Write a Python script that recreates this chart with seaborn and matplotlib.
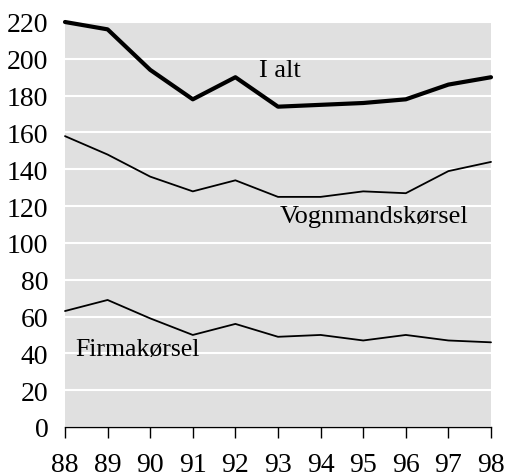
import matplotlib
matplotlib.use("Agg")
import matplotlib.pyplot as plt
import seaborn as sns
import pandas as pd

years = [88, 89, 90, 91, 92, 93, 94, 95, 96, 97, 98]
i_alt = [220, 216, 194, 178, 190, 174, 175, 176, 178, 186, 190]
vognmand = [158, 148, 136, 128, 134, 125, 125, 128, 127, 139, 144]
firma = [63, 69, 59, 50, 56, 49, 50, 47, 50, 47, 46]
yticks = list(range(0, 221, 20))

sns.set_theme(style="darkgrid")
plt.rcParams['font.family'] = ['Liberation Serif', 'DejaVu Serif']

df = pd.DataFrame({"year": years * 3,
                   "value": i_alt + vognmand + firma,
                   "series": ["I alt"] * 11 + ["Vognmandskørsel"] * 11 + ["Firmakørsel"] * 11})

fig = plt.figure(figsize=(5.06, 4.77), dpi=100)
ax = fig.add_axes([65/506, 1 - 428/477, 426/506, 405/477])
ax.set_facecolor("#e0e0e0")

for name, lw in [("I alt", 3.0), ("Vognmandskørsel", 1.3), ("Firmakørsel", 1.3)]:
    sub = df[df.series == name]
    sns.lineplot(data=sub, x="year", y="value", ax=ax, color="black", linewidth=lw,
                 clip_on=False, legend=False)

ax.set_xlim(88, 98)
ax.set_ylim(0, 220)
ax.set_xticks(years)
ax.set_xticklabels([str(y) for y in years])
ax.set_yticks(yticks)
ax.grid(axis="y", color="white", linewidth=1.5)
ax.grid(axis="x", visible=False)
ax.set_xlabel("")
ax.set_ylabel("")
for s in ["top", "right", "left"]:
    ax.spines[s].set_visible(False)
ax.spines["bottom"].set_visible(True)
ax.spines["bottom"].set_color("black")
ax.spines["bottom"].set_linewidth(1.0)
ax.tick_params(axis="x", which="major", bottom=True, direction="out", length=8, width=1,
               color="black", labelsize=20, pad=10, labelcolor="black")
ax.tick_params(axis="y", left=False, length=0, labelsize=20, pad=12, labelcolor="black")

ax.text(93.05, 194, "I alt", fontsize=19, ha="center", va="center", color="black")
ax.text(97.46, 114.5, "Vognmandskørsel", fontsize=19, ha="right", va="center", color="black")
ax.text(88.23, 42.4, "Firmakørsel", fontsize=18.5, ha="left", va="center", color="black")

fig.savefig("out.png", dpi=100)
